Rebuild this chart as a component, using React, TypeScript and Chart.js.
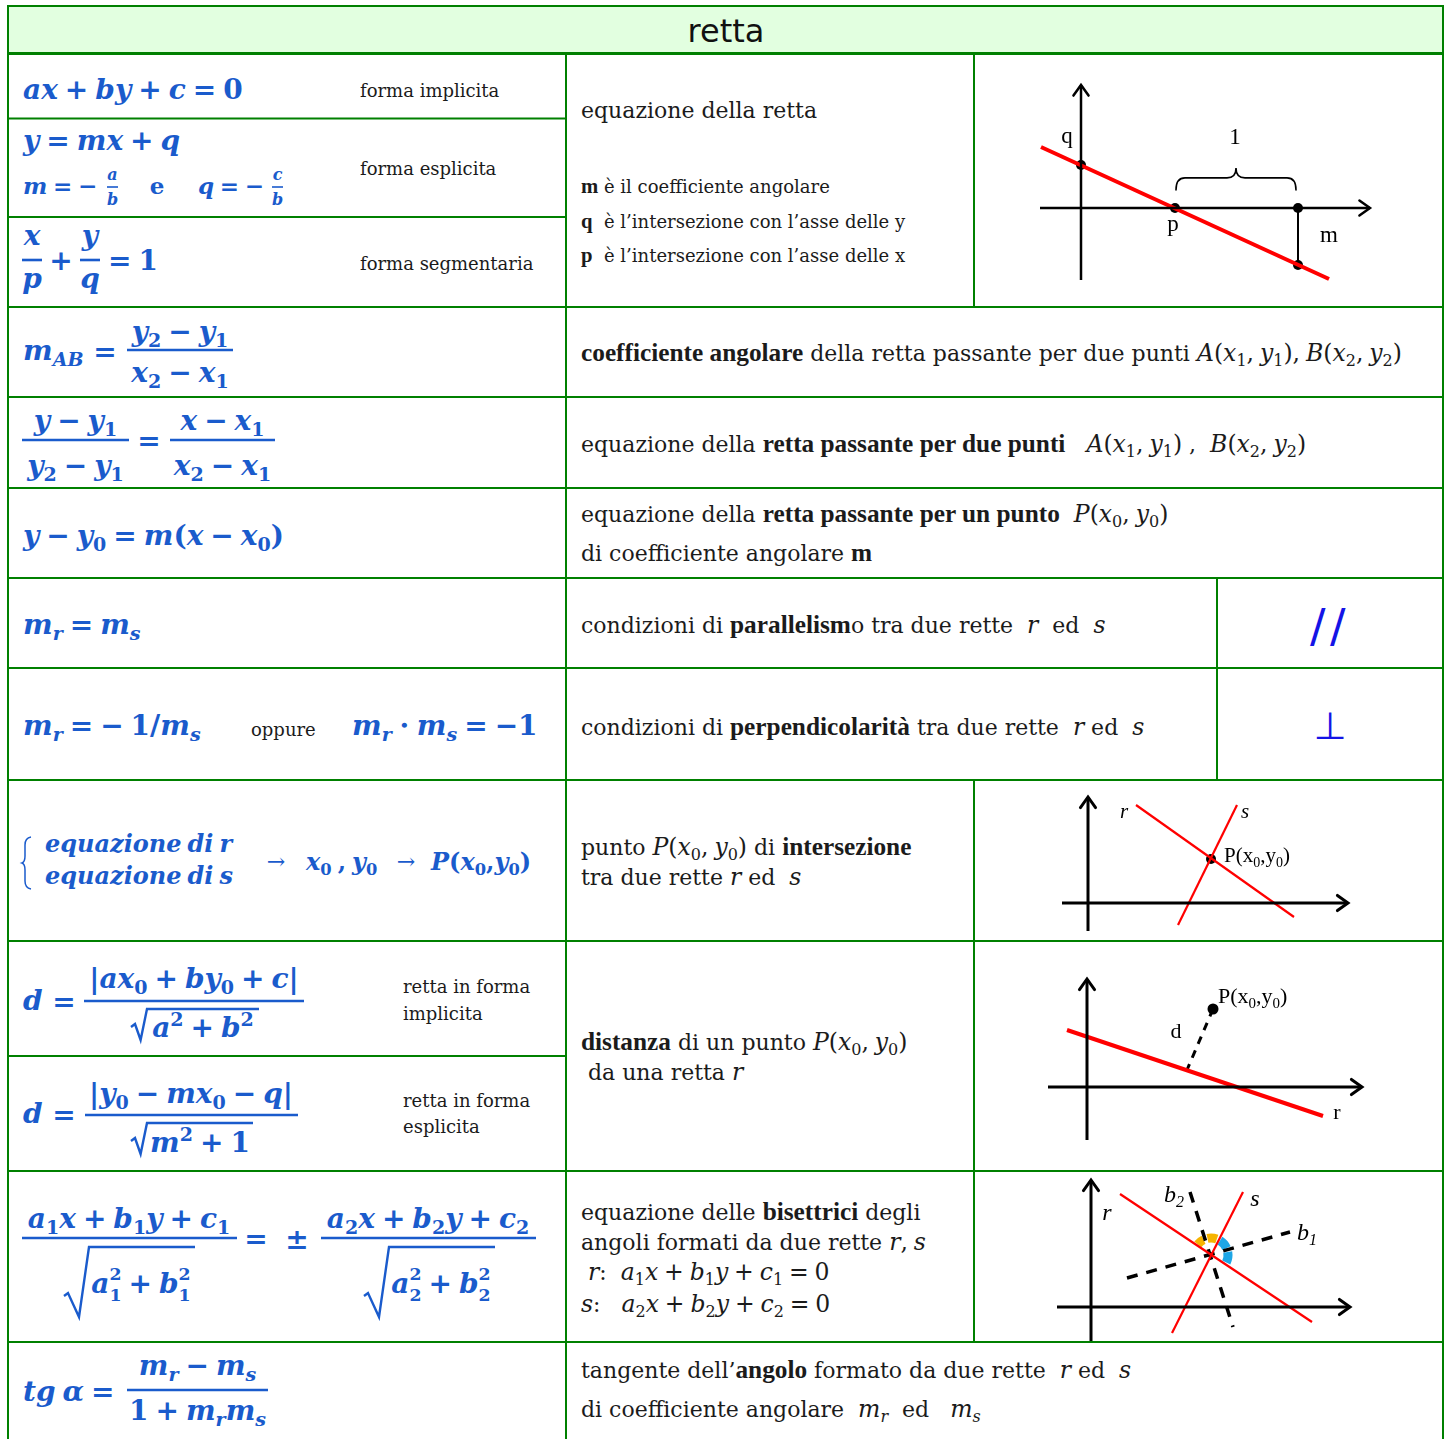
import React, { useEffect, useRef } from "react";
import { Chart, registerables } from "chart.js";
Chart.register(...registerables);

// ---------- colours & fonts ----------
const GREEN = "#008000";
const BLUE = "#1a5bcc";
const INK = "#1b1b1b";
const SYM = "#1414e6";
const MATH_FONT = "'DejaVu Serif', serif";
const TEXT_FONT = "'DejaVu Serif', serif";
const BOLD_TEXT_FONT = '"Liberation Serif", "Times New Roman", serif';
const LABEL_FONT = '"Liberation Serif", "Times New Roman", serif';

// ---------- diagram data (px units from the axes origin, y up) ----------
// 1: equazione della retta
const R1_XAXIS = [{ x: -41, y: 0 }, { x: 289, y: 0 }];
const R1_YAXIS = [{ x: 0, y: -72 }, { x: 0, y: 123 }];
const R1_LINE = [{ x: -40, y: 61 }, { x: 248, y: -71 }];
const R1_STEP = [{ x: 217, y: 0 }, { x: 217, y: -57 }];
const R1_DOTS = [{ x: 0, y: 43 }, { x: 94, y: 0 }, { x: 217, y: 0 }, { x: 217, y: -57 }];
const R1_BRACE = [{ x: 95, y: 18 }, { x: 155, y: 40 }, { x: 215, y: 18 }];
const R1_LABELS = [
  { x: -14, y: 65, t: "q" },
  { x: 154, y: 64, t: "1" },
  { x: 92, y: -23, t: "p" },
  { x: 248, y: -34, t: "m" },
];
// 2: intersezione
const R2_XAXIS = [{ x: -26, y: 0 }, { x: 260, y: 0 }];
const R2_YAXIS = [{ x: 0, y: -28 }, { x: 0, y: 106 }];
const R2_R = [{ x: 48, y: 98 }, { x: 206, y: -14 }];
const R2_S = [{ x: 149, y: 98 }, { x: 90, y: -22 }];
const R2_DOTS = [{ x: 123, y: 44 }];
const R2_LABELS = [
  { x: 36, y: 85, t: "r", it: true },
  { x: 157, y: 85, t: "s", it: true },
  { x: 136, y: 41, t: "P(x_0,y_0)", left: true },
];
// 3: distanza punto-retta
const R3_XAXIS = [{ x: -39, y: 0 }, { x: 275, y: 0 }];
const R3_YAXIS = [{ x: 0, y: -53 }, { x: 0, y: 108 }];
const R3_R = [{ x: -20, y: 57 }, { x: 236, y: -29 }];
const R3_D = [{ x: 126, y: 78 }, { x: 100, y: 17 }];
const R3_DOTS = [{ x: 126, y: 78 }];
const R3_LABELS = [
  { x: 131, y: 84, t: "P(x_0,y_0)", left: true },
  { x: 89, y: 49, t: "d" },
  { x: 250, y: -32, t: "r" },
];
// 4: bisettrici
const R4_XAXIS = [{ x: -34, y: 0 }, { x: 259, y: 0 }];
const R4_YAXIS = [{ x: 0, y: -36 }, { x: 0, y: 127 }];
const R4_R = [{ x: 29, y: 113 }, { x: 221, y: -15 }];
const R4_S = [{ x: 152, y: 115 }, { x: 81, y: -26 }];
const R4_B1 = [{ x: 36, y: 29 }, { x: 199, y: 75 }];
const R4_B2 = [{ x: 99, y: 115 }, { x: 142, y: -20 }];
const R4_WEDGES = [
  { x: 120, y: 52, from: 70, to: 102, color: "#f6b400" },
  { x: 120, y: 52, from: 116, to: 141, color: "#f6b400" },
  { x: 120, y: 52, from: 24, to: 58, color: "#1ea6e6" },
  { x: 120, y: 52, from: -26, to: 10, color: "#1ea6e6" },
];
const R4_LABELS = [
  { x: 73, y: 105, t: "b_2", it: true, left: true },
  { x: 164, y: 101, t: "s", it: true },
  { x: 16, y: 87, t: "r", it: true },
  { x: 206, y: 67, t: "b_1", it: true, left: true },
];

// ---------- texts ----------
const TITLE = "retta";
const MID_TEXTS = [
  "equazione della retta",
  "coefficiente angolare",
  "intersezione con l’asse delle y",
  "intersezione con l’asse delle x",
];

// ---------- rich text for SVG ----------
type Tok = { t: string; it: boolean; b: boolean; lvl: number; back: number; mm: boolean };
function tokenize(s: string, math: boolean): Tok[] {
  const out: Tok[] = [];
  let m = math, b = false, up = false, i = 0;
  const add = (t: string, lvl: number, back0 = 0) => {
    let back = back0;
    for (const ch of t) {
      const it = m && !up && /[A-Za-zα-ω]/.test(ch);
      const c = m && ch === " " ? "\u2005" : ch;
      const last = out[out.length - 1];
      if (last && back === 0 && last.it === it && last.b === b && last.lvl === lvl && last.mm === m) last.t += c;
      else out.push({ t: c, it, b, lvl, back, mm: m });
      back = 0;
    }
  };
  while (i < s.length) {
    const ch = s[i];
    if (ch === "*") { b = !b; i++; continue; }
    if (ch === "$") { m = !m; i++; continue; }
    if (ch === "`") { up = !up; i++; continue; }
    if ((ch === "_" || ch === "^") && m) {
      let g: string;
      if (s[i + 1] === "{") { const j = s.indexOf("}", i); g = s.slice(i + 2, j); i = j + 1; }
      else { g = s[i + 1]; i += 2; }
      const lvl = ch === "_" ? -1 : 1;
      const last = out[out.length - 1];
      const back = lvl === 1 && last && last.lvl === -1 ? last.t.length : 0;
      add(g, lvl, back);
      continue;
    }
    add(ch, 0);
    i++;
  }
  return out;
}

function Rich(p: {
  x: number; y: number; s: string; size?: number; math?: boolean; anchor?: string;
  fill?: string; weight?: string; family?: string; textMode?: boolean;
}) {
  const size = p.size ?? 28;
  const math = p.math ?? true;
  const toks = tokenize(p.s, math);
  let cur = 0;
  return (
    <text x={p.x} y={p.y} fontSize={size} fill={p.fill ?? BLUE} fontFamily={p.family ?? MATH_FONT}
      fontWeight={p.weight ?? "bold"} textAnchor={p.anchor ?? "start"} xmlSpace="preserve" style={{ whiteSpace: "pre" }}>
      {toks.map((k, i) => {
        const stackedSub = k.lvl === -1 && toks[i + 1] && toks[i + 1].back > 0;
        const stackedSup = k.back > 0;
        const stacked = stackedSub || stackedSup;
        let fs = k.lvl ? size * (stacked ? 0.62 : 0.68) : size;
        let fam: string | undefined;
        if (p.textMode && k.b) { fs *= 1.15; fam = BOLD_TEXT_FONT; }
        if (p.textMode && k.mm) fs *= 1.07;
        const off = stackedSub ? size * 0.3 : stackedSup ? -size * 0.45
          : k.lvl === -1 ? size * 0.22 : k.lvl === 1 ? -size * 0.4 : 0;
        const dy = off - cur;
        cur = off;
        const dx = stackedSup ? -k.back * 0.696 * size * 0.62 : 0;
        return (
          <tspan key={i} dy={dy} dx={dx || undefined} fontSize={fs} fontFamily={fam}
            fontStyle={k.it ? "italic" : "normal"} fontWeight={k.b ? "bold" : undefined}>{k.t}</tspan>
        );
      })}
    </text>
  );
}

function Txt(p: { x: number; y: number; s: string; size?: number }) {
  return <Rich x={p.x} y={p.y} s={p.s} size={p.size ?? 22} math={false} fill={INK} weight="normal" family={TEXT_FONT} textMode />;
}

function Bar(p: { x1: number; x2: number; y: number; w?: number }) {
  return <line x1={p.x1} x2={p.x2} y1={p.y} y2={p.y} stroke={BLUE} strokeWidth={p.w ?? 2.6} />;
}

function Root(p: { x: number; top: number; bottom: number; end: number; rise?: number; hook?: number }) {
  const r = p.rise ?? 16, h = p.hook ?? 13;
  const d = `M${p.x},${p.bottom - h} L${p.x + 4},${p.bottom - h - 3} L${p.x + r * 0.6},${p.bottom} L${p.x + r},${p.top} L${p.end},${p.top}`;
  return <path d={d} stroke={BLUE} strokeWidth={2.4} fill="none" strokeLinejoin="miter" />;
}

// ---------- chart overlay plugin ----------
function drawLabel(ctx: CanvasRenderingContext2D, l: any, px: number, py: number, size: number) {
  const parts: { t: string; sub: boolean }[] = [];
  const s: string = l.t;
  let i = 0;
  while (i < s.length) {
    if (s[i] === "_") { parts.push({ t: s[i + 1], sub: true }); i += 2; }
    else {
      const last = parts[parts.length - 1];
      if (last && !last.sub) last.t += s[i]; else parts.push({ t: s[i], sub: false });
      i++;
    }
  }
  const font = (sub: boolean) => `${l.it ? "italic " : ""}${sub ? Math.round(size * 0.68) : size}px ${LABEL_FONT}`;
  let w = 0;
  for (const p of parts) { ctx.font = font(p.sub); w += ctx.measureText(p.t).width; }
  let x = l.left ? px : px - w / 2;
  ctx.fillStyle = "#000";
  ctx.textBaseline = "alphabetic";
  ctx.textAlign = "left";
  for (const p of parts) {
    ctx.font = font(p.sub);
    ctx.fillText(p.t, x, p.sub ? py + size * 0.22 : py);
    x += ctx.measureText(p.t).width;
  }
}

const overlayPlugin = {
  id: "overlay",
  beforeDatasetsDraw(chart: any, _a: any, o: any) {
    const { ctx } = chart;
    const sx = chart.scales.x, sy = chart.scales.y;
    (o.wedges || []).forEach((w: any) => {
      const cx = sx.getPixelForValue(w.x), cy = sy.getPixelForValue(w.y);
      ctx.save();
      ctx.strokeStyle = w.color;
      ctx.lineWidth = 9;
      ctx.beginPath();
      ctx.arc(cx, cy, 17, (-w.to * Math.PI) / 180, (-w.from * Math.PI) / 180);
      ctx.stroke();
      ctx.restore();
    });
  },
  afterDatasetsDraw(chart: any, _a: any, o: any) {
    const { ctx } = chart;
    const sx = chart.scales.x, sy = chart.scales.y;
    ctx.save();
    (o.arrows || []).forEach((pts: any[]) => {
      const a = pts[pts.length - 2], b = pts[pts.length - 1];
      const tx = sx.getPixelForValue(b.x), ty = sy.getPixelForValue(b.y);
      const fx = sx.getPixelForValue(a.x), fy = sy.getPixelForValue(a.y);
      const ang = Math.atan2(ty - fy, tx - fx);
      const L = 13, sp = 0.62;
      ctx.strokeStyle = "#000";
      ctx.lineWidth = o.axisWidth || 2.5;
      ctx.lineCap = "round";
      ctx.beginPath();
      ctx.moveTo(tx - L * Math.cos(ang - sp), ty - L * Math.sin(ang - sp));
      ctx.lineTo(tx, ty);
      ctx.lineTo(tx - L * Math.cos(ang + sp), ty - L * Math.sin(ang + sp));
      ctx.stroke();
    });
    if (o.brace) {
      const [p1, tip, p2] = o.brace;
      const x1 = sx.getPixelForValue(p1.x), x2 = sx.getPixelForValue(p2.x), xm = sx.getPixelForValue(tip.x);
      const ye = sy.getPixelForValue(p1.y), yt = sy.getPixelForValue(tip.y);
      const yb = ye + (yt - ye) * 0.55;
      ctx.strokeStyle = "#000";
      ctx.lineWidth = 1.6;
      ctx.beginPath();
      ctx.moveTo(x1, ye);
      ctx.quadraticCurveTo(x1, yb, x1 + 9, yb);
      ctx.lineTo(xm - 9, yb);
      ctx.quadraticCurveTo(xm, yb, xm, yt);
      ctx.quadraticCurveTo(xm, yb, xm + 9, yb);
      ctx.lineTo(x2 - 9, yb);
      ctx.quadraticCurveTo(x2, yb, x2, ye);
      ctx.stroke();
    }
    (o.labels || []).forEach((l: any) => {
      drawLabel(ctx, l, sx.getPixelForValue(l.x), sy.getPixelForValue(l.y), o.labelSize || 22);
    });
    ctx.restore();
  },
};

function seg(data: any[], color: string, width: number, dash: number[] = []) {
  return { data, showLine: true, borderColor: color, borderWidth: width, borderDash: dash, pointRadius: 0, fill: false, tension: 0 };
}
function dots(data: any[], r: number) {
  return { data, showLine: false, pointRadius: r, pointBackgroundColor: "#000", pointBorderWidth: 0, borderColor: "#000" };
}

function Diagram(p: { left: number; top: number; width: number; height: number; ox: number; oy: number; datasets: any[]; overlay: any }) {
  const ref = useRef<HTMLCanvasElement>(null);
  useEffect(() => {
    const chart = new Chart(ref.current as HTMLCanvasElement, {
      type: "scatter",
      data: { datasets: p.datasets },
      options: {
        animation: false,
        responsive: false,
        maintainAspectRatio: false,
        events: [],
        layout: { padding: 0, autoPadding: false },
        plugins: { legend: { display: false }, tooltip: { enabled: false }, overlay: p.overlay } as any,
        scales: {
          x: { type: "linear", display: false, min: p.left - p.ox, max: p.left + p.width - p.ox },
          y: { type: "linear", display: false, min: p.oy - (p.top + p.height), max: p.oy - p.top },
        },
      },
      plugins: [overlayPlugin as any],
    });
    return () => chart.destroy();
  }, []);
  return (
    <canvas ref={ref} width={p.width} height={p.height}
      style={{ position: "absolute", left: p.left, top: p.top, width: p.width, height: p.height }} />
  );
}

// ---------- grid ----------
const GRID: number[][] = [
  [8, 6, 1443, 6, 2], [8, 53.5, 1443, 53.5, 3], [8, 118.5, 566, 118.5, 2], [8, 217, 566, 217, 2],
  [8, 307, 1443, 307, 2], [8, 397, 1443, 397, 2], [8, 488, 1443, 488, 2], [8, 578, 1443, 578, 2],
  [8, 668, 1443, 668, 2], [8, 780, 1443, 780, 2], [8, 941, 1443, 941, 2], [8, 1056, 566, 1056, 2],
  [8, 1171, 1443, 1171, 2], [8, 1342, 1443, 1342, 2],
  [8, 5, 8, 1439, 2], [1443, 5, 1443, 1439, 2], [566, 53, 566, 1439, 2], [974, 53, 974, 307, 2],
  [1217, 578, 1217, 780, 2], [974, 780, 974, 1342, 2],
];

export default function App() {
  return (
    <div style={{ position: "absolute", left: 0, top: 0, width: 1450, height: 1439, background: "#fff", overflow: "hidden" }}>
      <svg width={1450} height={1439} style={{ position: "absolute", left: 0, top: 0 }}>
        <rect x={8} y={6} width={1435} height={47} fill="#e2ffe0" />
        <text x={726} y={42} fontSize={32} textAnchor="middle" fontFamily="'Comic Sans MS', 'DejaVu Sans', sans-serif" fill="#111">{TITLE}</text>

        {/* row 1 */}
        <Rich x={23} y={99} s="ax + by + c = 0" />
        <Txt x={360} y={97} s="forma implicita" size={18} />
        <Rich x={23} y={150} s="y = mx + q" />
        <Rich x={23} y={194} size={23} s="m = −" />
        <Rich x={112.5} y={180} size={16} anchor="middle" s="a" />
        <Bar x1={107} x2={118} y={187} w={1.6} />
        <Rich x={112.5} y={205} size={16} anchor="middle" s="b" />
        <Rich x={157} y={194} size={23} anchor="middle" math={false} s="e" />
        <Rich x={198} y={194} size={23} s="q = −" />
        <Rich x={277.5} y={180} size={16} anchor="middle" s="c" />
        <Bar x1={272} x2={283} y={187} w={1.6} />
        <Rich x={277.5} y={205} size={16} anchor="middle" s="b" />
        <Txt x={360} y={175} s="forma esplicita" size={18} />
        <Rich x={32} y={245} anchor="middle" s="x" />
        <Bar x1={22} x2={42} y={260} />
        <Rich x={32} y={288} anchor="middle" s="p" />
        <Rich x={61} y={270} anchor="middle" s="+" />
        <Rich x={90} y={245} anchor="middle" s="y" />
        <Bar x1={80} x2={100} y={260} />
        <Rich x={90} y={288} anchor="middle" s="q" />
        <Rich x={108} y={270} s="= 1" />
        <Txt x={360} y={270} s="forma segmentaria" size={18} />

        <Txt x={581} y={118} s={MID_TEXTS[0]} />
        <Txt x={581} y={193} s={"*m* è il " + MID_TEXTS[1]} size={18} />
        <Txt x={581} y={228} s={"*q*  è l’" + MID_TEXTS[2]} size={18} />
        <Txt x={581} y={262} s={"*p*  è l’" + MID_TEXTS[3]} size={18} />

        {/* row 2 */}
        <Rich x={23} y={360} s="m_{AB}" />
        <Rich x={105} y={361} anchor="middle" s="=" />
        <Bar x1={127} x2={233} y={350} />
        <Rich x={180} y={341} anchor="middle" s="y_2 − y_1" />
        <Rich x={180} y={382} anchor="middle" s="x_2 − x_1" />
        <Txt x={581} y={361} s="*coefficiente angolare* della retta passante per due punti $A(x_1, y_1), B(x_2, y_2)$" />

        {/* row 3 */}
        <Bar x1={22} x2={129} y={440} />
        <Rich x={75.5} y={430} anchor="middle" s="y − y_1" />
        <Rich x={75.5} y={475} anchor="middle" s="y_2 − y_1" />
        <Rich x={149} y={450} anchor="middle" s="=" />
        <Bar x1={170} x2={275} y={440} />
        <Rich x={222.5} y={430} anchor="middle" s="x − x_1" />
        <Rich x={222.5} y={475} anchor="middle" s="x_2 − x_1" />
        <Txt x={581} y={452} s="equazione della *retta passante per due punti*   $A(x_1, y_1)$ ,  $B(x_2, y_2)$" />

        {/* row 4 */}
        <Rich x={23} y={545} s="y − y_0 = m(x − x_0)" />
        <Txt x={581} y={522} s="equazione della *retta passante per un punto*  $P(x_0, y_0)$" />
        <Txt x={581} y={561} s="di coefficiente angolare *m*" />

        {/* row 5 */}
        <Rich x={23} y={634} s="m_r = m_s" />
        <Txt x={581} y={633} s="condizioni di *parallelism*o tra due rette  $r$  ed  $s$" />
        <text x={1330} y={642} fontSize={46} textAnchor="middle" fontFamily="'DejaVu Sans', sans-serif" fill={SYM} letterSpacing={4.5}>//</text>

        {/* row 6 */}
        <Rich x={23} y={735} s="m_r = − 1/m_s" />
        <Txt x={251} y={736} s="oppure" size={18} />
        <Rich x={352} y={735} s="m_r ⋅ m_s = −1" />
        <Txt x={581} y={735} s="condizioni di *perpendicolarità* tra due rette  $r$ ed  $s$" />
        <text x={1330} y={739} fontSize={38} textAnchor="middle" fontFamily="'DejaVu Sans', sans-serif" fill={SYM}>⊥</text>

        {/* row 7 */}
        <path d="M31,837 Q25,838 25,845 L25,856 Q25,862 22,863 Q25,864 25,870 L25,881 Q25,888 31,889" stroke={BLUE} strokeWidth={1.5} fill="none" />
        <Rich x={45} y={852} size={24} s="equazione di r" />
        <Rich x={45} y={884} size={24} s="equazione di s" />
        <Rich x={276} y={869} size={22} weight="normal" anchor="middle" s="→" />
        <Rich x={306} y={870} size={24} s="x_0 , y_0" />
        <Rich x={406} y={869} size={22} weight="normal" anchor="middle" s="→" />
        <Rich x={431} y={870} size={24} s="P(x_0,y_0)" />
        <Txt x={581} y={855} s="punto $P(x_0, y_0)$ di *intersezione*" />
        <Txt x={581} y={885} s="tra due rette $r$ ed  $s$" />

        {/* row 8 */}
        <Rich x={23} y={1010} s="d" />
        <Rich x={64} y={1011} anchor="middle" s="=" />
        <Bar x1={84} x2={304} y={1001} />
        <Rich x={194} y={988} anchor="middle" s="|ax_0 + by_0 + c|" />
        <Root x={131} top={1009} bottom={1040} end={259} />
        <Rich x={203} y={1037} anchor="middle" s="a^2 + b^2" />
        <Txt x={403} y={993} s="retta in forma" size={18} />
        <Txt x={403} y={1020} s="implicita" size={18} />
        <Rich x={23} y={1123} s="d" />
        <Rich x={64} y={1124} anchor="middle" s="=" />
        <Bar x1={85} x2={298} y={1115} />
        <Rich x={191} y={1103} anchor="middle" s="|y_0 − mx_0 − q|" />
        <Root x={131} top={1123} bottom={1154} end={253} />
        <Rich x={200} y={1152} anchor="middle" s="m^2 + 1" />
        <Txt x={403} y={1107} s="retta in forma" size={18} />
        <Txt x={403} y={1133} s="esplicita" size={18} />
        <Txt x={581} y={1050} s="*distanza* di un punto $P(x_0, y_0)$" />
        <Txt x={581} y={1080} s=" da una retta $r$" />

        {/* row 9 */}
        <Bar x1={22} x2={237} y={1238} />
        <Rich x={129} y={1228} anchor="middle" s="a_1x + b_1y + c_1" />
        <Root x={64} top={1247} bottom={1317} end={195} rise={25} hook={21} />
        <Rich x={141} y={1293} anchor="middle" s="a_1^2 + b_1^2" />
        <Rich x={256} y={1248} anchor="middle" s="=" />
        <Rich x={297} y={1249} anchor="middle" s="±" />
        <Bar x1={321} x2={536} y={1238} />
        <Rich x={428} y={1228} anchor="middle" s="a_2x + b_2y + c_2" />
        <Root x={364} top={1247} bottom={1317} end={495} rise={25} hook={21} />
        <Rich x={441} y={1293} anchor="middle" s="a_2^2 + b_2^2" />
        <Txt x={581} y={1220} s="equazione delle *bisettrici* degli" />
        <Txt x={581} y={1250} s="angoli formati da due rette $r, s$" />
        <Txt x={581} y={1280} s=" $r$:  $a_1x + b_1y + c_1 = 0$" />
        <Txt x={581} y={1312} s="$s$:   $a_2x + b_2y + c_2 = 0$" />

        {/* row 10 */}
        <Rich x={23} y={1401} s="tg α =" />
        <Bar x1={127} x2={268} y={1390} />
        <Rich x={197.5} y={1375} anchor="middle" s="m_r − m_s" />
        <Rich x={197.5} y={1420} anchor="middle" s="1 + m_rm_s" />
        <Txt x={581} y={1378} s="tangente dell’*angolo* formato da due rette  $r$ ed  $s$" />
        <Txt x={581} y={1417} s="di coefficiente angolare  $m_r$  ed   $m_s$" />

        {GRID.map((g, i) => (
          <line key={i} x1={g[0]} y1={g[1]} x2={g[2]} y2={g[3]} stroke={GREEN} strokeWidth={g[4]} />
        ))}
      </svg>

      <Diagram left={975} top={55} width={467} height={251} ox={1081} oy={208}
        datasets={[
          seg(R1_XAXIS, "#000", 2.5), seg(R1_YAXIS, "#000", 2.5), seg(R1_LINE, "#ff0000", 4),
          seg(R1_STEP, "#000", 2), dots(R1_DOTS, 5),
        ]}
        overlay={{ arrows: [R1_XAXIS, R1_YAXIS], brace: R1_BRACE, labels: R1_LABELS, labelSize: 23, axisWidth: 2.5 }} />

      <Diagram left={975} top={781} width={467} height={159} ox={1088} oy={903}
        datasets={[
          seg(R2_XAXIS, "#000", 3), seg(R2_YAXIS, "#000", 3), seg(R2_R, "#ff0000", 2.2),
          seg(R2_S, "#ff0000", 2.2), dots(R2_DOTS, 5),
        ]}
        overlay={{ arrows: [R2_XAXIS, R2_YAXIS], labels: R2_LABELS, labelSize: 21, axisWidth: 3 }} />

      <Diagram left={975} top={942} width={467} height={228} ox={1087} oy={1087}
        datasets={[
          seg(R3_XAXIS, "#000", 3), seg(R3_YAXIS, "#000", 3), seg(R3_R, "#ff0000", 4),
          seg(R3_D, "#000", 3, [8, 7]), dots(R3_DOTS, 5.5),
        ]}
        overlay={{ arrows: [R3_XAXIS, R3_YAXIS], labels: R3_LABELS, labelSize: 22, axisWidth: 3 }} />

      <Diagram left={975} top={1172} width={467} height={169} ox={1091} oy={1307}
        datasets={[
          seg(R4_XAXIS, "#000", 3), seg(R4_YAXIS, "#000", 3), seg(R4_R, "#ff0000", 2.2),
          seg(R4_S, "#ff0000", 2.2), seg(R4_B1, "#000", 3.5, [11, 9]), seg(R4_B2, "#000", 3.5, [11, 9]),
        ]}
        overlay={{ arrows: [R4_XAXIS, R4_YAXIS], wedges: R4_WEDGES, labels: R4_LABELS, labelSize: 24, axisWidth: 3 }} />
    </div>
  );
}
